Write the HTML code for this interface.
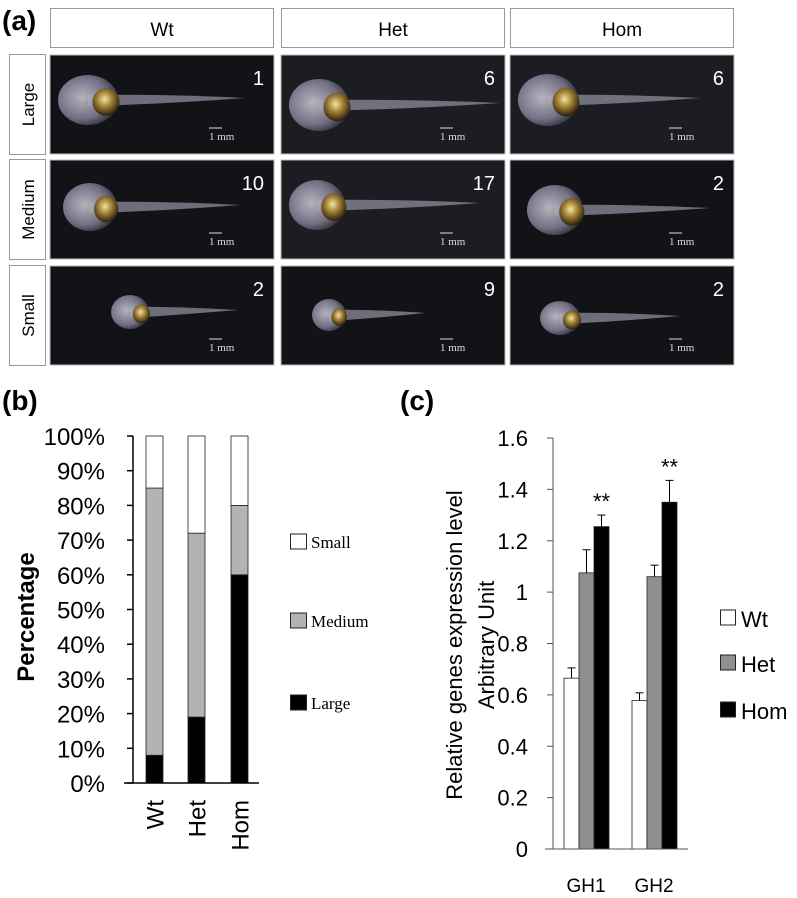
<!DOCTYPE html>
<html><head><meta charset="utf-8"><style>
html,body{margin:0;padding:0;background:#fff;}
svg{display:block;font-family:"Liberation Sans",sans-serif;}
</style></head><body>
<svg id="fig" width="797" height="898" viewBox="0 0 797 898" xmlns="http://www.w3.org/2000/svg">
<defs>
<radialGradient id="headG" cx="40%" cy="45%" r="60%"><stop offset="0" stop-color="#c8c4d0"/><stop offset="0.7" stop-color="#7d7a90"/><stop offset="1" stop-color="#3a3845"/></radialGradient>
<radialGradient id="eyeG" cx="45%" cy="40%" r="60%"><stop offset="0" stop-color="#f4e2a0"/><stop offset="0.5" stop-color="#9a7a30"/><stop offset="1" stop-color="#2a2010"/></radialGradient>
</defs>
<g id="panelA"></g>
<g id="panelB"></g>
<g id="panelC"></g>
</svg>
<script>
// ---------- Panel (b) data ----------
const bCategories = ["Wt","Het","Hom"];
const bLarge = [8,19,60];
const bMedium = [77,53,20];
const bSmall = [15,28,20];
const bTicks = ["0%","10%","20%","30%","40%","50%","60%","70%","80%","90%","100%"];
// ---------- Panel (c) data ----------
const cGenes = ["GH1","GH2"];
const cWt = [0.665,0.578];
const cHet = [1.075,1.06];
const cHom = [1.255,1.35];
const cWtErr = [0.04,0.03];
const cHetErr = [0.09,0.045];
const cHomErr = [0.045,0.085];
const cTicks = [0,0.2,0.4,0.6,0.8,1,1.2,1.4,1.6];
const cStars = ["**","**"];
// ---------- Panel (a) data ----------
const aCols = ["Wt","Het","Hom"];
const aRows = ["Large","Medium","Small"];
const aCounts = [[1,6,6],[10,17,2],[2,9,2]];

const NS="http://www.w3.org/2000/svg";
function el(tag,attrs,parent,text){const e=document.createElementNS(NS,tag);for(const k in attrs)e.setAttribute(k,attrs[k]);if(text!==undefined)e.textContent=text;parent.appendChild(e);return e;}

// ===== Panel A =====
const A=document.getElementById('panelA');
let t=el('text',{x:2,y:30,'font-size':28,'font-weight':'bold'},A,'(a)');


const colX=[50,281,510], colW=224, rowY=[55,160,266], rowH=99;
const fish=[[[38,45,30,25,195],[38,50,30,26,219],[38,45,30,26,190]],
            [[40,47,27,24,190],[36,45,28,25,199],[45,50,28,25,200]],
            [[80,46,19,17,188],[48,49,17,16,144],[50,52,20,17,170]]];
aCols.forEach((c,i)=>{
  const r=el('rect',{x:colX[i]+0.5,y:8.5,width:colW-1,height:39,fill:'#fff',stroke:'#999'},A);
  
  
  const tx=el('text',{x:colX[i]+colW/2,y:36,'font-size':19,'text-anchor':'middle'},A,c);
  
  
});
aRows.forEach((rname,j)=>{
  const r=el('rect',{x:9.5,y:rowY[j]-0.5,width:36,height:rowH+1,fill:'#fff',stroke:'#999'},A);
  
  
  const cy=rowY[j]+rowH/2;
  const tx=el('text',{x:0,y:0,'font-size':17,'text-anchor':'middle',transform:`translate(34,${cy}) rotate(-90)`},A,rname);
  
  
  aCols.forEach((c,i)=>{
    const x=colX[i], y=rowY[j];
    const g=el('g',{},A);
    
    
    el('rect',{x:x,y:y,width:colW,height:rowH,fill:(i==1&&j<2)||(i==2&&j==0)?'#1c1d22':'#121317',stroke:'#bbb'},g);
    const f=fish[j][i];
    const hx=x+f[0], hy=y+f[1];
    el('path',{d:`M${hx} ${hy-5} Q${x+f[4]*0.6} ${hy-6} ${x+f[4]} ${hy-2} Q${x+f[4]*0.6} ${hy+4} ${hx} ${hy+6} Z`,fill:'#8d8c9c',opacity:0.75},g);
    el('ellipse',{cx:hx,cy:hy,rx:f[2],ry:f[3],fill:'url(#headG)',opacity:0.9},g);
    el('ellipse',{cx:hx+f[2]*0.6,cy:hy+2,rx:f[2]*0.45,ry:f[3]*0.55,fill:'url(#eyeG)'},g);
    const n=el('text',{x:x+colW-10,y:y+30,'font-size':20,fill:'#fff','text-anchor':'end'},g,aCounts[j][i]);
    
    
    el('line',{x1:x+colW-65,x2:x+colW-52,y1:y+rowH-26,y2:y+rowH-26,stroke:'#ddd','stroke-width':1},g);
    const s=el('text',{x:x+colW-65,y:y+rowH-14,'font-size':11,fill:'#ddd','font-family':'Liberation Serif, serif'},g,'1 mm');
    
    
  });
});

// ===== Panel B =====
const B=document.getElementById('panelB');
t=el('text',{x:2,y:410,'font-size':28,'font-weight':'bold'},B,'(b)');


const by0=783, by1=436, bAxisX=133;
const bY=v=>by0-(by0-by1)*v/100;
const bX=[146,188,231], bW=17;
bTicks.forEach((lab,i)=>{
  const v=i*10;
  el('line',{x1:bAxisX-6,x2:bAxisX,y1:bY(v),y2:bY(v),stroke:'#000','stroke-width':1.5},B);
  const tx=el('text',{x:105,y:bY(v)+9,'font-size':24,'text-anchor':'end'},B,lab);
  
  
});
bCategories.forEach((c,i)=>{
  const segs=[[0,bLarge[i],'#000','large'],[bLarge[i],bLarge[i]+bMedium[i],'#b3b3b3','medium'],[bLarge[i]+bMedium[i],bLarge[i]+bMedium[i]+bSmall[i],'#fff','small']];
  segs.forEach(s=>{
    const r=el('rect',{x:bX[i],y:bY(s[1]),width:bW,height:bY(s[0])-bY(s[1]),fill:s[2],stroke:'#222','stroke-width':0.8},B);
    
    
  });
  const tx=el('text',{x:0,y:0,'font-size':24,'text-anchor':'end',transform:`translate(${bX[i]+bW/2+9},${800}) rotate(-90)`},B,c);
  
  
});
el('line',{x1:bAxisX,x2:bAxisX,y1:by1,y2:by0,stroke:'#000','stroke-width':1.5},B);
el('line',{x1:124,x2:259,y1:by0,y2:by0,stroke:'#000','stroke-width':1.5},B);
t=el('text',{x:0,y:0,'font-size':24,'font-weight':'bold','text-anchor':'middle',transform:'translate(34,617) rotate(-90)'},B,'Percentage');


[['Small','#fff',542],['Medium','#b3b3b3',621],['Large','#000',703]].forEach(l=>{
  const g=el('g',{},B);
  
  
  el('rect',{x:290.5,y:l[2]-8,width:16,height:15,fill:l[1],stroke:'#222'},g);
  el('text',{x:311,y:l[2]+6,'font-size':17,'font-family':'Liberation Serif, serif'},g,l[0]);
});

// ===== Panel C =====
const C=document.getElementById('panelC');
t=el('text',{x:400,y:410,'font-size':28,'font-weight':'bold'},C,'(c)');


const cy0=849, cy1=438, cAxisX=553;
const cY=v=>cy0-(cy0-cy1)*v/1.6;
cTicks.forEach(v=>{
  el('line',{x1:cAxisX-6,x2:cAxisX,y1:cY(v),y2:cY(v),stroke:'#555'},C);
  const tx=el('text',{x:528,y:cY(v)+8,'font-size':22,'text-anchor':'end'},C,String(v));
  
  
});
const groupX=[564,632], cBW=15;
const series=[[cWt,cWtErr,'#fff','wt'],[cHet,cHetErr,'#8f8f8f','het'],[cHom,cHomErr,'#000','hom']];
cGenes.forEach((gname,gi)=>{
  series.forEach((s,si)=>{
    const x=groupX[gi]+si*cBW, v=s[0][gi], e=s[1][gi];
    const cx=x+cBW/2;
    el('line',{x1:cx,x2:cx,y1:cY(v),y2:cY(v+e),stroke:'#000','stroke-width':1},C);
    el('line',{x1:cx-4,x2:cx+4,y1:cY(v+e),y2:cY(v+e),stroke:'#000','stroke-width':1},C);
    const r=el('rect',{x:x,y:cY(v),width:cBW,height:cy0-cY(v),fill:s[2],stroke:'#222','stroke-width':0.8},C);
    
    
  });
  const hx=groupX[gi]+2*cBW+cBW/2;
  const st=el('text',{x:hx,y:cY(cHom[gi]+cHomErr[gi])-6,'font-size':22,'text-anchor':'middle'},C,cStars[gi]);
  
  
  const tx=el('text',{x:groupX[gi]+22,y:892,'font-size':19,'text-anchor':'middle'},C,gname);
  
  
});
el('line',{x1:cAxisX,x2:cAxisX,y1:cy1,y2:cy0,stroke:'#555'},C);
el('line',{x1:545,x2:688,y1:cy0,y2:cy0,stroke:'#555'},C);
t=el('text',{x:0,y:0,'font-size':22,'text-anchor':'middle',transform:'translate(462,645) rotate(-90)'},C,'Relative genes expression level');


t=el('text',{x:0,y:0,'font-size':22,'text-anchor':'middle',transform:'translate(494,645) rotate(-90)'},C,'Arbitrary Unit');


[['Wt','#fff',618],['Het','#8f8f8f',663],['Hom','#000',710]].forEach(l=>{
  const g=el('g',{},C);
  
  
  el('rect',{x:720.5,y:l[2]-8,width:15,height:15,fill:l[1],stroke:'#222'},g);
  el('text',{x:741,y:l[2]+9,'font-size':22},g,l[0]);
});
</script>
</body></html>
